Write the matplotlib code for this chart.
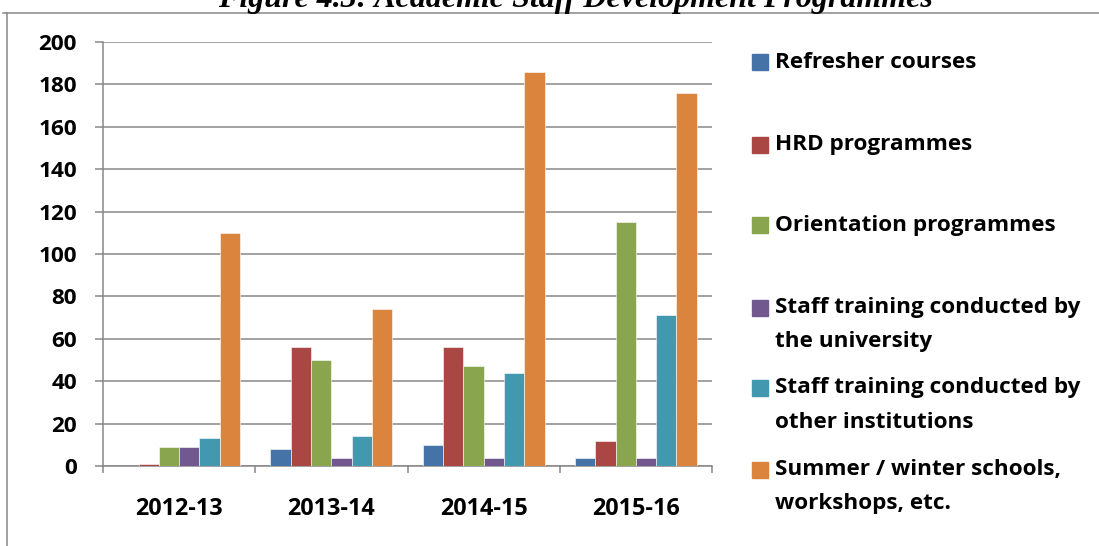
import numpy as np
import matplotlib

matplotlib.use("Agg")
import matplotlib.pyplot as plt
from matplotlib.lines import Line2D
from matplotlib.patches import Rectangle

YEARS = ["2012-13", "2013-14", "2014-15", "2015-16"]

refresher = [0, 8, 10, 4]
hrd = [1, 56, 56, 12]
orientation = [9, 50, 47, 115]
staff_univ = [9, 4, 4, 4]
staff_other = [13, 14, 44, 71]
summer = [110, 74, 186, 176]

SERIES = [
    ("Refresher courses", refresher, "#4572A7"),
    ("HRD programmes", hrd, "#AA4643"),
    ("Orientation programmes", orientation, "#89A54E"),
    ("Staff training conducted by\nthe university", staff_univ, "#71588F"),
    ("Staff training conducted by\nother institutions", staff_other, "#4198AF"),
    ("Summer / winter schools,\nworkshops, etc.", summer, "#DB843D"),
]

TITLE = "Figure 4.3: Academic Staff Development Programmes"
GRID = "#878787"
FONT = "Open Sans"
FS = 16.2

plt.rcParams.update({"font.family": FONT, "font.weight": "bold"})

fig = plt.figure(figsize=(10.99, 5.46), dpi=100)
ax = fig.add_axes([103 / 1099, 1 - 466 / 546, (712 - 103) / 1099, (466 - 42) / 546])

n = len(SERIES)
w = 1 / (n + 1.5)
x = np.arange(len(YEARS))
for i, (label, vals, color) in enumerate(SERIES):
    ax.bar(x + (i - (n - 1) / 2) * w, vals, width=w, color=color,
           edgecolor="#ffffff", linewidth=0.4, zorder=3)

ax.set_xlim(-0.5, len(YEARS) - 0.5)
ax.set_ylim(0, 200)
ax.set_yticks(np.arange(0, 201, 20))
ax.yaxis.grid(True, color=GRID, linewidth=1.1, zorder=0)
ax.set_axisbelow(True)

ax.set_xticks(np.arange(len(YEARS) + 1) - 0.5)
ax.set_xticklabels([])
ax.set_xticks(x, minor=True)
ax.set_xticklabels(YEARS, minor=True)
ax.tick_params(axis="x", which="major", length=5, width=1.1, color=GRID)
ax.tick_params(axis="x", which="minor", length=0, pad=22, labelsize=FS + 0.6)
ax.tick_params(axis="y", length=5.8, width=1.1, color=GRID, pad=13, labelsize=FS)

for s in ("top", "right"):
    ax.spines[s].set_visible(False)
for s in ("left", "bottom"):
    ax.spines[s].set_color(GRID)
    ax.spines[s].set_linewidth(1.1)

# legend drawn by hand so rows sit where the original has them
rows = [62, 145, 225, 308, 388, 470]
for (label, vals, color), yc in zip(SERIES, rows):
    fig.patches.append(Rectangle((752 / 1099, 1 - (yc + 8) / 546), 16 / 1099, 16 / 546,
                                 transform=fig.transFigure, color=color))
    for k, line in enumerate(label.split("\n")):
        fig.text(775 / 1099, 1 - (yc + 34 * k) / 546, line, fontsize=FS,
                 fontweight="bold", va="center", ha="left")

# chart frame (only top and left edges are inside the crop)
fig.add_artist(Line2D([3 / 1099, 1], [1 - 13 / 546] * 2, color=GRID, lw=1.1,
                      transform=fig.transFigure))
fig.add_artist(Line2D([7 / 1099] * 2, [0, 1 - 13 / 546], color=GRID, lw=1.1,
                      transform=fig.transFigure))

# caption above the chart, mostly cropped away in the original
fig.text(575 / 1099, 1 - 7 / 546, TITLE, family="Liberation Serif", style="italic",
         fontweight="bold", fontsize=23, ha="center", va="baseline")

fig.savefig("out.png", dpi=100)
